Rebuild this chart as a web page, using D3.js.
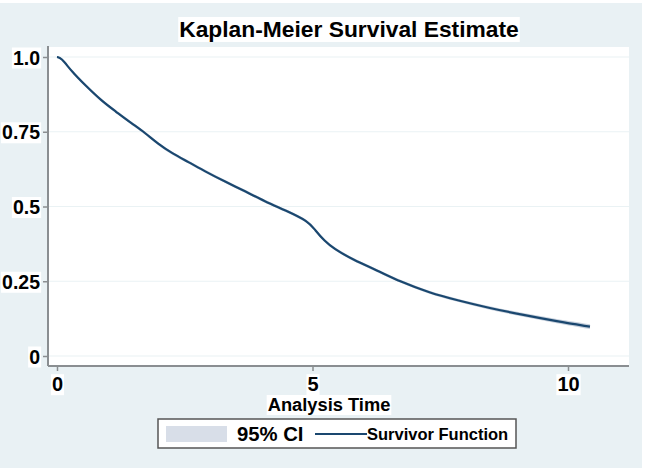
<!DOCTYPE html>
<html>
<head>
<meta charset="utf-8">
<script src="https://cdn.jsdelivr.net/npm/d3@7"></script>
<style>
  body { margin: 0; background: #ffffff; }
  text { font-family: "Liberation Sans", Arial, sans-serif; font-weight: bold; fill: #000; }
</style>
</head>
<body>
<svg id="km-svg" width="646" height="473"></svg>
<script>
// analysis time (years) and Kaplan-Meier survivor estimate
const times    = [0, 0.08, 0.29, 0.55, 0.88, 1.14, 1.46, 1.72, 1.98, 2.25, 2.57, 2.90, 3.29, 3.68, 4.07, 4.46, 4.92, 5.05, 5.24, 5.41, 5.80, 6.26, 6.71, 7.30, 7.82, 8.47, 9.13, 9.78, 10.43];
const survival = [1.0, 0.998, 0.951, 0.906, 0.852, 0.819, 0.778, 0.747, 0.709, 0.678, 0.649, 0.617, 0.583, 0.551, 0.517, 0.488, 0.451, 0.421, 0.384, 0.360, 0.321, 0.287, 0.249, 0.211, 0.187, 0.160, 0.137, 0.116, 0.098];
// 95% confidence band
const ciLower  = [1.0, 0.996, 0.947, 0.901, 0.847, 0.814, 0.773, 0.742, 0.704, 0.673, 0.644, 0.612, 0.578, 0.546, 0.512, 0.483, 0.446, 0.416, 0.379, 0.355, 0.316, 0.282, 0.244, 0.206, 0.182, 0.154, 0.131, 0.109, 0.090];
const ciUpper  = [1.0, 1.0, 0.955, 0.911, 0.857, 0.824, 0.783, 0.752, 0.714, 0.683, 0.654, 0.622, 0.588, 0.556, 0.522, 0.493, 0.456, 0.426, 0.389, 0.365, 0.326, 0.292, 0.254, 0.216, 0.192, 0.166, 0.143, 0.123, 0.106];

const yTicks = [0, 0.25, 0.5, 0.75, 1.0];
const yTickLabels = ["0", "0.25", "0.5", "0.75", "1.0"];
const xTicks = [0, 5, 10];

const chartTitle = "Kaplan-Meier Survival Estimate";
const xTitle = "Analysis Time";
const legendLabels = ["95% CI", "Survivor Function"];

const svg = d3.select("#km-svg");

// outer graph region
svg.append("rect")
  .attr("x", 0).attr("y", 3).attr("width", 642).attr("height", 465)
  .attr("fill", "#e9f1f4");

const plot = { left: 48, right: 629, top: 47, bottom: 366 };

svg.append("rect")
  .attr("x", plot.left).attr("y", plot.top)
  .attr("width", plot.right - plot.left).attr("height", plot.bottom - plot.top)
  .attr("fill", "#ffffff");

const x = d3.scaleLinear().domain([0, 10]).range([57, 568]);
const y = d3.scaleLinear().domain([0, 1]).range([356, 57]);

// faint gridlines
svg.append("g").selectAll("line")
  .data(yTicks)
  .enter()
  .append("line")
  .attr("x1", plot.left).attr("x2", plot.right)
  .attr("y1", d => y(d)).attr("y2", d => y(d))
  .style("stroke", "#eaf2f4")
  .style("stroke-width", 1.2);

// confidence band
const pts = times.map((t, i) => ({ t: t, s: survival[i], lo: ciLower[i], hi: ciUpper[i] }));

const band = d3.area()
  .x(d => x(d.t))
  .y0(d => y(d.lo))
  .y1(d => y(d.hi))
  .curve(d3.curveBasis);

svg.append("path")
  .datum(pts)
  .attr("d", band)
  .attr("fill", "#b9c4d3")
  .attr("opacity", 0.8);

// survivor function
const line = d3.line()
  .x(d => x(d.t))
  .y(d => y(d.s))
  .curve(d3.curveBasis);

svg.append("path")
  .datum(pts)
  .attr("d", line)
  .attr("fill", "none")
  .style("stroke", "#1a476f")
  .style("stroke-width", 2.2);

// axes
const axisColor = "#8a8e91";

svg.append("line")
  .attr("x1", plot.left).attr("x2", plot.left)
  .attr("y1", plot.top - 1).attr("y2", plot.bottom)
  .style("stroke", axisColor).style("stroke-width", 2);

svg.append("line")
  .attr("x1", plot.left).attr("x2", plot.right)
  .attr("y1", plot.bottom).attr("y2", plot.bottom)
  .style("stroke", axisColor).style("stroke-width", 2);

const yAxis = d3.axisLeft(y)
  .tickValues(yTicks)
  .tickSize(5)
  .tickFormat((d, i) => yTickLabels[i]);

const gy = svg.append("g")
  .attr("transform", "translate(" + plot.left + ",0)")
  .call(yAxis);
gy.select(".domain").remove();
gy.selectAll(".tick line").style("stroke", axisColor).style("stroke-width", 1.5);
gy.selectAll(".tick text")
  .attr("x", -8)
  .attr("dy", "0.36em")
  .style("font-size", "19.5px")
  .style("font-weight", "bold")
  .style("font-family", "'Liberation Sans', Arial, sans-serif")
  .style("fill", "#000");

const xAxis = d3.axisBottom(x)
  .tickValues(xTicks)
  .tickSize(5)
  .tickFormat(d3.format("d"));

const gx = svg.append("g")
  .attr("transform", "translate(0," + plot.bottom + ")")
  .call(xAxis);
gx.select(".domain").remove();
gx.selectAll(".tick line").style("stroke", axisColor).style("stroke-width", 1.5);
gx.selectAll(".tick text")
  .attr("y", 11)
  .attr("dy", "0.71em")
  .style("font-size", "20px")
  .style("font-weight", "bold")
  .style("font-family", "'Liberation Sans', Arial, sans-serif")
  .style("fill", "#000");

// white boxes behind labels, as in the picture
function whiteBehind(sel) {
  sel.each(function() {
    const b = this.getBBox();
    d3.select(this.parentNode).insert("rect", "text")
      .attr("x", b.x - 1).attr("y", b.y + 1)
      .attr("width", b.width + 2).attr("height", b.height - 1)
      .attr("fill", "#ffffff");
  });
}
whiteBehind(gy.selectAll(".tick text"));
whiteBehind(gx.selectAll(".tick text"));

// titles
const titleG = svg.append("g");
titleG.append("text")
  .attr("x", 349).attr("y", 37)
  .attr("text-anchor", "middle")
  .style("font-size", "22.8px")
  .text(chartTitle);
whiteBehind(titleG.selectAll("text"));

const xTitleG = svg.append("g");
xTitleG.append("text")
  .attr("x", 329).attr("y", 411)
  .attr("text-anchor", "middle")
  .style("font-size", "18.3px")
  .text(xTitle);
whiteBehind(xTitleG.selectAll("text"));

// legend
const legend = svg.append("g");
legend.append("rect")
  .attr("x", 158).attr("y", 419).attr("width", 358).attr("height", 29)
  .attr("fill", "#ffffff")
  .style("stroke", "#555")
  .style("stroke-width", 1.5);

legend.append("rect")
  .attr("x", 166).attr("y", 426).attr("width", 61).attr("height", 16)
  .attr("fill", "#d8dee8");

legend.append("text")
  .attr("x", 237).attr("y", 441)
  .style("font-size", "20.3px")
  .text(legendLabels[0]);

legend.append("line")
  .attr("x1", 315).attr("x2", 367)
  .attr("y1", 434).attr("y2", 434)
  .style("stroke", "#1a476f")
  .style("stroke-width", 2);

legend.append("text")
  .attr("x", 367).attr("y", 440)
  .style("font-size", "16.5px")
  .text(legendLabels[1]);
</script>
</body>
</html>
